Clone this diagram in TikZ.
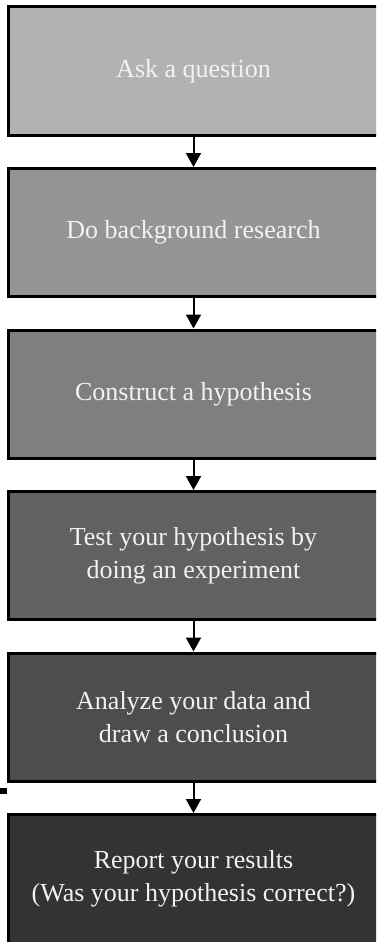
\documentclass[tikz,border=0pt]{standalone}
\usepackage{fontspec}
\setmainfont{Liberation Serif}
\usetikzlibrary{arrows.meta}
\definecolor{gA}{HTML}{B2B2B2}
\definecolor{gB}{HTML}{959595}
\definecolor{gC}{HTML}{7F7F7F}
\definecolor{gD}{HTML}{616161}
\definecolor{gE}{HTML}{4D4D4D}
\definecolor{gF}{HTML}{333333}
\definecolor{txt}{HTML}{F2F2F2}
\tikzset{
  stepbox/.style={draw=black, line width=3pt, minimum width=380pt, minimum height=128pt,
    inner sep=0pt},
  steptext/.style={text=txt, align=center, font=\fontsize{26}{33}\selectfont, xshift=-5pt},
  conn/.style={line width=2pt, -{Triangle[width=15pt,length=14pt]}}
}
\begin{document}
\begin{tikzpicture}[x=1pt,y=-1pt]
\useasboundingbox (0,0) rectangle (376,942);
\begin{scope}
\clip (0,0) rectangle (376,942);
\node[stepbox, fill=gA, label={[steptext]center:Ask a question}] (s1) at (198.5,71) {};
\node[stepbox, fill=gB, label={[steptext]center:Do background research}] (s2) at (198.5,232.5) {};
\node[stepbox, fill=gC, label={[steptext]center:Construct a hypothesis}] (s3) at (198.5,394) {};
\node[stepbox, fill=gD, label={[steptext]center:Test your hypothesis by\\doing an experiment}] (s4) at (198.5,555.5) {};
\node[stepbox, fill=gE, label={[steptext]center:Analyze your data and\\draw a conclusion}] (s5) at (198.5,717) {};
\node[stepbox, fill=gF, minimum height=140pt, label={[steptext, yshift=6pt]center:Report your results\\(Was your hypothesis correct?)}] (s6) at (198.5,884.5) {};
\draw[conn] ([xshift=-5pt]s1.south) -- ([xshift=-5pt]s2.north);
\draw[conn] ([xshift=-5pt]s2.south) -- ([xshift=-5pt]s3.north);
\draw[conn] ([xshift=-5pt]s3.south) -- ([xshift=-5pt]s4.north);
\draw[conn] ([xshift=-5pt]s4.south) -- ([xshift=-5pt]s5.north);
\draw[conn] ([xshift=-5pt]s5.south) -- ([xshift=-5pt]s6.north);
\fill[black] (0,788) rectangle (7,794);
\end{scope}
\end{tikzpicture}
\end{document}
